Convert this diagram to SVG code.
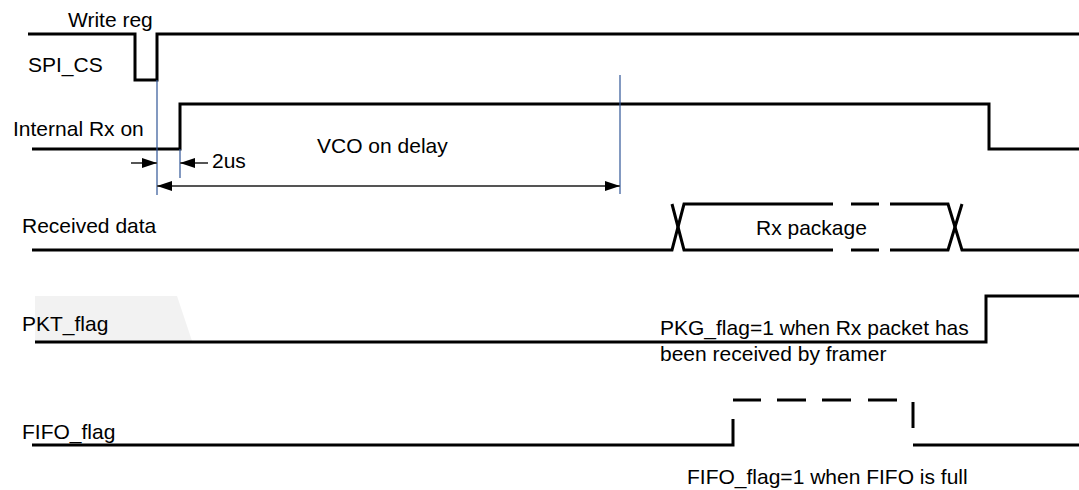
<svg xmlns="http://www.w3.org/2000/svg" width="1079" height="490" viewBox="0 0 1079 490">
<style>
.sig{fill:none;stroke:#000;stroke-width:3;stroke-linejoin:miter;stroke-linecap:butt}
.guide{stroke:#2f5597;stroke-width:1.2;fill:none}
.dim{stroke:#555;stroke-width:2;fill:none}
.lbl{font-family:"Liberation Sans",Arial,sans-serif;font-size:21px;fill:#000}
</style>
<defs>
<marker id="ah" viewBox="0 0 15 10" refX="15" refY="5" markerWidth="15" markerHeight="10" markerUnits="userSpaceOnUse" orient="auto-start-reverse">
<path d="M0,0 L15,5 L0,10 z" fill="#000"/>
</marker>
</defs>
<rect width="1079" height="490" fill="#fff"/>
<polygon points="35,296 177,296 192,341 35,341" fill="#f2f2f2"/>
<g id="spi_cs">
<text class="lbl" x="68" y="27">Write reg</text>
<text class="lbl" x="28" y="72">SPI_CS</text>
<polyline class="sig" points="28,34 135,34 135,80 157,80 157,34 1079,34"/>
</g>
<g id="internal_rx_on">
<text class="lbl" x="13" y="136">Internal Rx on</text>
<polyline class="sig" points="32,149 180,149 180,104 989,104 989,149 1079,149"/>
</g>
<g id="received_data">
<text class="lbl" x="22" y="233">Received data</text>
<text class="lbl" x="756" y="235">Rx package</text>
<polyline class="sig" points="32,250 672,250 684,204 833,204"/>
<polyline class="sig" points="672,204 684,250 833,250"/>
<line class="sig" x1="851" y1="204" x2="879" y2="204"/>
<line class="sig" x1="851" y1="250" x2="879" y2="250"/>
<polyline class="sig" points="890,204 948,204 962,250 1079,250"/>
<polyline class="sig" points="890,250 948,250 962,204"/>
</g>
<g id="pkt_flag">
<text class="lbl" x="22" y="331">PKT_flag</text>
<polyline class="sig" points="35,342 986,342 986,296 1079,296"/>
<text class="lbl" x="660" y="335">PKG_flag=1 when Rx packet has</text>
<text class="lbl" x="660" y="361">been received by framer</text>
</g>
<g id="fifo_flag">
<text class="lbl" x="22" y="439">FIFO_flag</text>
<polyline class="sig" points="32,445 733,445 733,419"/>
<line class="sig" x1="733" y1="400" x2="761" y2="400"/>
<line class="sig" x1="777" y1="400" x2="806" y2="400"/>
<line class="sig" x1="822" y1="400" x2="851" y2="400"/>
<line class="sig" x1="868" y1="400" x2="897" y2="400"/>
<line class="sig" x1="913" y1="402" x2="913" y2="428"/>
<line class="sig" x1="913" y1="445" x2="1079" y2="445"/>
<text class="lbl" x="687" y="484">FIFO_flag=1 when FIFO is full</text>
</g>
<g id="connectors">
<line class="guide" x1="157" y1="80" x2="157" y2="195"/>
<line class="guide" x1="180" y1="149" x2="180" y2="178"/>
<line class="guide" x1="620" y1="75" x2="620" y2="194"/>
<line class="dim" x1="131" y1="163" x2="157" y2="163" marker-end="url(#ah)"/>
<line class="dim" x1="208" y1="163" x2="180" y2="163" marker-end="url(#ah)"/>
<line class="dim" x1="157" y1="186" x2="620" y2="186" marker-start="url(#ah)" marker-end="url(#ah)"/>
<text class="lbl" x="212" y="168">2us</text>
<text class="lbl" x="317" y="153">VCO on delay</text>
</g>
</svg>
